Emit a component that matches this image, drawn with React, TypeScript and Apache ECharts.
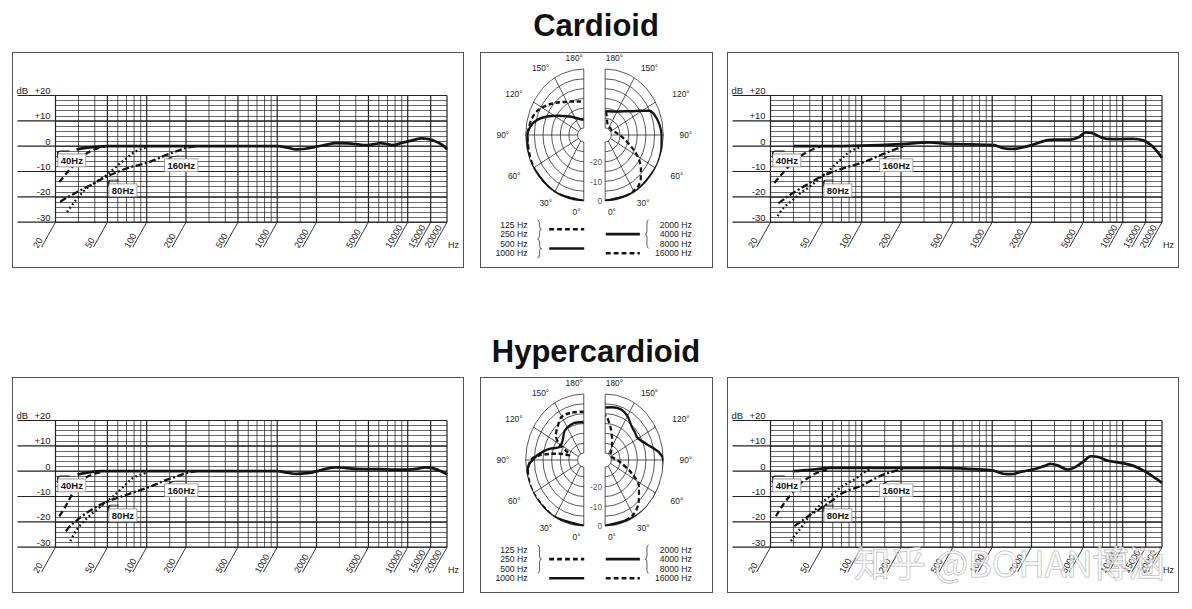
import * as echarts from 'echarts';
import React, { useEffect, useRef } from 'react';

type Pt = [number, number];

const FONT = '"Liberation Sans", Arial, Helvetica, sans-serif';
const INK = '#141414';
const GRID = '#222';

// frequency axis: vertical grid lines and labelled lines (Hz)
const gridFreqs = [
  20, 30, 40, 50, 60, 70, 80, 90, 100, 150, 200, 300, 400, 500, 600, 700, 800, 900, 1000,
  1500, 2000, 3000, 4000, 5000, 6000, 7000, 8000, 9000, 10000, 15000, 20000,
];
const labelFreqs = [20, 50, 100, 200, 500, 1000, 2000, 5000, 10000, 15000, 20000];
// level axis: labelled lines (dB)
const majorDb = [-30, -20, -10, 0, 10, 20];

// frequency response, [Hz, dB] — cardioid, left chart
const cardA: Pt[] = [
  [29, -1.3], [33, -0.8], [40, -0.3], [50, 0], [100, 0], [500, 0], [1000, 0], [1200, -0.6],
  [1400, -1.3], [1650, -1.0], [2000, -0.2], [2400, 0.6], [2800, 1.2], [3500, 1.1], [4200, 0.7],
  [4800, 0.4], [5500, 0.8], [6200, 1.2], [7000, 0.8], [7700, 0.4], [8500, 0.9], [9500, 1.6],
  [11000, 2.4], [12800, 3.1], [14500, 2.8], [16500, 1.8], [18500, 0.4], [20000, -1.3],
];
const cardA40: Pt[] = [[21.4, -14.2], [24, -11], [27, -8], [30, -5.5], [34, -3.2], [40, -1.2], [48, -0.1]];
const cardA80: Pt[] = [
  [24.5, -26], [27, -23], [30, -20], [35, -16.5], [40, -14.5], [48, -11.8], [55, -9.3], [61, -7.2],
  [70, -4.8], [79, -2.6], [90, -1.2], [100, -0.4],
];
const cardA160: Pt[] = [
  [21.7, -22], [25, -20], [28.6, -18.4], [33, -16.7], [38, -15.1], [44, -13.3], [51, -11.6], [60, -10.2],
  [68, -9], [80, -7.9], [100, -6.6], [120, -5], [137, -3.7], [165, -2.2], [200, -0.7], [240, 0],
];

// cardioid, right chart
const cardB: Pt[] = [
  [30, 0], [50, 0], [100, 0.2], [200, 0.8], [330, 1.5], [460, 0.9], [700, 0.7], [1000, 0.5],
  [1250, -0.9], [1450, -1.1], [1700, -0.5], [2000, 0.4], [2600, 2.3], [3000, 2.6], [4000, 2.6],
  [4600, 3.5], [5200, 5.4], [5800, 5.2], [6700, 3.7], [7600, 2.9], [9600, 2.8], [12000, 2.9],
  [14400, 2.3], [16200, 0.7], [17800, -1.3], [20000, -4.6],
];
const cardB40: Pt[] = [[21.4, -14.5], [24, -11.5], [27, -8.5], [30, -6], [34, -3.8], [40, -1.8], [48, -0.2]];
const cardB80: Pt[] = [
  [22.7, -27.6], [25, -24.5], [30, -21], [35, -18], [40, -16], [48, -12.5], [55, -10], [61, -7.9],
  [70, -5], [79, -2.6], [90, -1], [100, -0.3],
];
const cardB160: Pt[] = [
  [23, -22.6], [26, -20.5], [30, -18.4], [38, -15.2], [48, -12.2], [60, -10.2], [68, -9.2], [80, -8],
  [100, -6.6], [137, -3.7], [175, -1.5], [210, 0],
];

// hypercardioid, left chart
const hypA: Pt[] = [
  [29.5, -1.3], [35, -0.6], [45, 0], [100, 0], [500, 0], [1000, 0], [1200, -0.6], [1400, -1.1],
  [1700, -0.8], [2000, -0.1], [2400, 1], [2800, 1.5], [3300, 1.3], [4000, 0.9], [6000, 0.8],
  [8000, 0.6], [10000, 0.6], [12000, 1], [13600, 1.5], [15500, 1.2], [18000, 0], [20000, -1.3],
];
const hypA40: Pt[] = [[21.4, -17.8], [23.5, -14.5], [26.3, -9.9], [29.5, -5.3], [33, -2.9], [40.5, -0.9], [47, -0.2]];
const hypA80: Pt[] = [
  [26, -27.6], [28.6, -23.7], [32, -20.5], [36.2, -17.8], [42, -15], [48, -12.5], [55, -10], [61, -7.9],
  [70, -5], [79, -2.6], [90, -1.3], [100, -0.7],
];
const hypA160: Pt[] = [
  [24, -23.7], [26, -21.5], [28.6, -19.7], [33, -17.2], [38, -15.1], [44, -13.3], [51, -11.8], [60, -10.5],
  [68, -9.5], [80, -8.3], [100, -6.6], [120, -5], [137, -3.7], [165, -2.3], [200, -0.8], [240, 0],
];

// hypercardioid, right chart
const hypB: Pt[] = [
  [30, 0], [40, 0.5], [58, 1.3], [100, 1.3], [205, 1.3], [400, 1.3], [740, 0.8], [1000, 0.3],
  [1250, -1.1], [1400, -1.2], [1650, -0.3], [2100, 0.8], [2500, 2.0], [2800, 2.9], [3200, 2.2],
  [3800, 0.6], [4300, 1.5], [5000, 3.8], [5700, 5.9], [6500, 5.6], [7600, 4.2], [9600, 3.3],
  [12100, 2.1], [15000, -0.3], [20000, -4.6],
];
const hypB40: Pt[] = [[22, -17.8], [25, -13.2], [29.5, -8.5], [33, -5.5], [36, -3.7], [40, -2.3], [45, -0.7], [54, 0.5]];
const hypB80: Pt[] = [
  [28.7, -27.6], [31, -25], [34.2, -22.4], [37, -19.8], [40.6, -17.1], [46, -14.3], [51.2, -11.8],
  [60, -9], [68.2, -6.6], [80, -4.4], [91.9, -2.6], [104, -0.6], [116, 0.8],
];
const hypB160: Pt[] = [
  [30.4, -21.7], [35, -19.5], [40.6, -17.1], [46, -15.5], [51.2, -13.8], [60, -11.4], [68.2, -9.2],
  [80, -7.5], [98, -5.9], [115, -4], [137, -2], [165, -0.5], [206, 0.9],
];

// polar patterns, [degrees, dB]
const cardPolarLow: Pt[] = [
  [0, 0], [30, 0], [60, -0.2], [90, -1], [97, -1.6], [106, -2.5], [116, -4.4], [127, -8], [135, -10.5],
  [143, -12.6], [153, -14.5], [163, -15.8], [172, -16.3], [180, -16.5],
];
const cardPolarMid: Pt[] = [
  [0, 0], [30, 0], [60, 0], [75, 0], [90, -1], [98, -2.4], [106, -5.5], [114, -10.3], [124, -16],
  [133, -19.5], [143, -22], [158, -24.5], [170, -25.5], [180, -25.7],
];
const cardPolarHigh: Pt[] = [
  [0, 0], [30, 0], [60, 0], [80, -0.5], [90, -1], [100, -1.8], [110, -3.3], [116, -5.3], [122, -10.4],
  [129, -14.4], [138, -17.3], [156, -20.5], [170, -21.3], [180, -21.5],
];
const cardPolar16k: Pt[] = [
  [0, 0], [20, -0.2], [30, -0.6], [36, -1.2], [42, -2.9], [49, -6.2], [57, -10.1], [65, -15.2],
  [81, -22.7], [100, -27], [119, -29], [140, -29], [165, -28], [177, -22.1], [180, -21.5],
];
const hypPolarLow: Pt[] = [
  [0, 0], [30, 0], [60, 0], [80, -0.8], [90, -3], [95, -7.5], [99, -13.7], [103, -19.2], [106, -25],
  [112, -24], [120, -17], [128, -13], [137, -11.2], [149, -8.2], [163, -8.4], [180, -9],
];
const hypPolar1k: Pt[] = [
  [0, 0], [30, 0], [45, 0], [60, 0.3], [75, 0.3], [85, -1.5], [90, -4], [95, -6.5], [100, -9.5],
  [106, -13], [115, -18.1], [122, -18.3], [131, -17.6], [143, -15.1], [161, -14], [180, -14.3],
];
const hypPolarHigh: Pt[] = [
  [0, 0], [30, 0], [50, 0.5], [70, 0.8], [81, 0.8], [90, 0], [97, -2.1], [108, -8], [115, -10.5],
  [122, -11.8], [130, -11.3], [137, -10.8], [150, -7.8], [161, -6.2], [172, -6.5], [180, -6.9],
];
const hypPolar16k: Pt[] = [
  [0, 0], [15, -0.2], [31, -1.4], [43, -5.1], [55, -9.7], [66, -16.6], [83, -24.9], [105, -29],
  [127, -30], [145, -27], [157, -23.3], [169, -16.9], [178, -11.2], [180, -11],
];

const polarAngles = [0, 30, 60, 90, 120, 150, 180];
const polarRadiusLabels = [0, -10, -20];
const legendLeftRows = ['125 Hz', '250 Hz', '500 Hz', '1000 Hz'];
const legendRightRows = ['2000 Hz', '4000 Hz', '8000 Hz', '16000 Hz'];

const lg = (f: number) => Math.log10(f);
const toXY = (pts: Pt[]) => pts.map(([f, db]) => [lg(f), db]);

interface ResponseProps {
  solid: Pt[];
  hp40: Pt[];
  hp80: Pt[];
  lc160: Pt[];
  watermark?: string;
}

const ResponseChart: React.FC<ResponseProps> = ({ solid, hp40, hp80, lc160, watermark }) => {
  const chartRef = useRef<HTMLDivElement>(null);

  useEffect(() => {
    if (!chartRef.current) return;
    const chart = echarts.init(chartRef.current, null, { renderer: 'svg' });

    const tagLabel = (text: string) => ({
      show: true,
      position: 'inside',
      formatter: text,
      backgroundColor: '#fff',
      borderColor: '#8a8a8a',
      borderWidth: 0.8,
      padding: [1.5, 2.5, 0.5, 2.5],
      fontSize: 9.5,
      fontWeight: 'bold',
      fontFamily: FONT,
      color: INK,
    });
    // filter tag: a boxed label plus the small filter-slope glyph above it
    const tag = (text: string, at: Pt, mark: Pt, path: string, size: number[]) => ({
      silent: true,
      data: [
        {
          coord: [lg(mark[0]), mark[1]],
          symbol: path,
          symbolSize: size,
          itemStyle: { color: 'transparent', borderColor: INK, borderWidth: 1.1 },
          label: { show: false },
        },
        {
          coord: [lg(at[0]), at[1]],
          symbol: 'circle',
          symbolSize: 1,
          itemStyle: { color: 'transparent' },
          label: tagLabel(text),
        },
      ],
    });
    const hook = 'path://M0,10 L0,3 Q0,0 3,0 L12,0';
    const slope = 'path://M0,8 Q5,0 12,0 L24,0';

    const curve = (data: Pt[], dash: any, width: number, z: number, markPoint?: any) => ({
      type: 'line',
      data: toXY(data),
      smooth: 0.35,
      symbol: 'none',
      z,
      lineStyle: { color: INK, width, type: dash },
      markPoint,
    });

    const option: any = {
      animation: false,
      textStyle: { fontFamily: FONT },
      grid: { left: 42.5, top: 42.5, width: 394, height: 126.7 },
      xAxis: {
        type: 'value',
        min: lg(20),
        max: lg(20000),
        axisLine: { show: false, onZero: false },
        axisTick: { show: false },
        axisLabel: { show: false },
        splitLine: { show: false },
        name: 'Hz',
        nameLocation: 'end',
        nameGap: 1,
        nameTextStyle: {
          fontSize: 9,
          color: '#222',
          align: 'left',
          verticalAlign: 'top',
          padding: [18, 0, 0, 0],
        },
      },
      yAxis: {
        type: 'value',
        min: -30,
        max: 20,
        interval: 2,
        axisLine: { show: false },
        axisTick: { show: false },
        axisLabel: {
          margin: 5,
          fontSize: 9.5,
          color: '#222',
          verticalAlign: 'bottom',
          formatter: (v: number) =>
            v % 10 !== 0 ? '' : v === 20 ? '{d|dB}+20' : v > 0 ? `+${v}` : `${v}`,
          rich: { d: { width: 18, align: 'left', fontSize: 9.5, color: '#222' } },
        },
        splitLine: { show: true, lineStyle: { color: '#2a2a2a', width: 0.7 } },
      },
      series: [
        {
          // labelled level lines, reaching out under the dB labels
          type: 'custom',
          z: 1,
          silent: true,
          data: majorDb.map((d) => [lg(20), d]),
          renderItem: (params: any, api: any) => {
            const l = api.coord([lg(20), api.value(1)]);
            const r = api.coord([lg(20000), api.value(1)]);
            return {
              type: 'line',
              shape: { x1: l[0] - 38, y1: l[1], x2: r[0], y2: r[1] },
              style: { stroke: GRID, lineWidth: 1.2 },
            };
          },
        },
        {
          // vertical frequency grid
          type: 'custom',
          z: 1,
          silent: true,
          data: gridFreqs.map((f) => [lg(f), -30]),
          renderItem: (params: any, api: any) => {
            const x = api.value(0);
            const top = api.coord([x, 20]);
            const bot = api.coord([x, -30]);
            const major = labelFreqs.includes(gridFreqs[params.dataIndex]);
            return {
              type: 'line',
              shape: { x1: top[0], y1: top[1], x2: bot[0], y2: bot[1] },
              style: { stroke: GRID, lineWidth: major ? 1.2 : 0.75 },
            };
          },
        },
        {
          // slanted frequency labels under the grid
          type: 'custom',
          z: 1,
          silent: true,
          data: labelFreqs.map((f) => [lg(f), -30]),
          renderItem: (params: any, api: any) => {
            const p = api.coord([api.value(0), -30]);
            return {
              type: 'group',
              children: [
                {
                  type: 'line',
                  shape: { x1: p[0], y1: p[1], x2: p[0] - 14, y2: p[1] + 25 },
                  style: { stroke: GRID, lineWidth: 0.9 },
                },
                {
                  type: 'text',
                  x: p[0] - 20,
                  y: p[1] + 25,
                  rotation: Math.PI / 3,
                  style: {
                    text: String(labelFreqs[params.dataIndex]),
                    fill: '#222',
                    fontSize: 9,
                    fontFamily: FONT,
                    align: 'left',
                    verticalAlign: 'middle',
                  },
                },
              ],
            };
          },
        },
        curve(hp40, [6, 3.5], 2.3, 3, tag('40Hz', [26.7, -5.6], [23.1, -3.3], hook, [12, 7])),
        curve(hp80, [1.8, 2.6], 2.3, 3, tag('80Hz', [65.7, -17.4], [56, -14.6], hook, [10, 6])),
        curve(lc160, [7, 2.5, 2, 2.5], 2.3, 3, tag('160Hz', [184, -7.5], [168, -4.7], slope, [17, 4])),
        curve(solid, 'solid', 2.7, 4),
      ],
      graphic: watermark
        ? [
            {
              type: 'text',
              x: 126,
              y: 183,
              z: 100,
              silent: true,
              style: {
                text: watermark,
                fontSize: 36,
                fontFamily: '"Noto Sans CJK SC", "Noto Sans", sans-serif',
                fill: 'rgba(255,255,255,0.65)',
                stroke: 'rgba(140,140,140,0.7)',
                lineWidth: 1,
                verticalAlign: 'middle',
              },
            },
          ]
        : [],
    };

    chart.setOption(option);
    return () => chart.dispose();
  }, [solid, hp40, hp80, lc160, watermark]);

  return <div ref={chartRef} style={{ width: 449, height: 213 }} />;
};

// polar panel geometry (drawn in a frame squeezed horizontally, like the source)
const SQUEEZE = 0.88;
const POLAR_W = 230 / SQUEEZE;
const CY = 82;
const R_IN = 7;
const R_OUT = 66;

const padLeftHalf: Record<number, number> = { 0: 16.6, 30: 0, 60: 9.5, 90: 12.8, 120: 7.2, 150: 3.3, 180: 21.6 };
const padRightHalf: Record<number, number> = { 0: 15.4, 30: 0, 60: 12, 90: 12.5, 120: 14, 150: 4.6, 180: 21 };

const bracePath = (w: number, h: number, openRight: boolean) => {
  const m = w / 2;
  const c = Math.min(3, h / 6);
  const h2 = h / 2;
  return openRight
    ? `M0,0 Q${m},0 ${m},${c} L${m},${h2 - c} Q${m},${h2} ${w},${h2} Q${m},${h2} ${m},${h2 + c} L${m},${h - c} Q${m},${h} 0,${h}`
    : `M${w},0 Q${m},0 ${m},${c} L${m},${h2 - c} Q${m},${h2} 0,${h2} Q${m},${h2} ${m},${h2 + c} L${m},${h - c} Q${m},${h} ${w},${h}`;
};

const braceEl = (x: number, y: number, w: number, h: number, openRight: boolean) => {
  const name = `brace${openRight ? 'R' : 'L'}${Math.round(w * 10)}x${Math.round(h * 10)}`;
  echarts.graphic.registerShape(name, echarts.graphic.extendPath(bracePath(w, h, openRight), {}) as any);
  return { type: name, x, y, silent: true, style: { fill: 'none', stroke: '#444', lineWidth: 0.9 } };
};

interface PolarProps {
  leftDashed: Pt[];
  leftSolid: Pt[];
  rightSolid: Pt[];
  rightDashed: Pt[];
  leftGroups: number[];
}

const PolarChart: React.FC<PolarProps> = ({ leftDashed, leftSolid, rightSolid, rightDashed, leftGroups }) => {
  const chartRef = useRef<HTMLDivElement>(null);

  useEffect(() => {
    if (!chartRef.current) return;
    const chart = echarts.init(chartRef.current, null, { renderer: 'svg' });

    const cx = [116.8, 141.1];
    const lineStyle = { color: GRID, width: 0.8 };

    const angleAxis = (idx: number) => ({
      polarIndex: idx,
      type: 'value',
      min: 0,
      max: 180,
      interval: 30,
      startAngle: idx === 0 ? 270 : -90,
      endAngle: 90,
      clockwise: idx === 0,
      axisLine: { show: false },
      axisTick: { show: false },
      splitLine: { show: true, lineStyle },
      axisLabel: {
        margin: 6,
        fontSize: 9.5,
        color: '#222',
        fontFamily: FONT,
        formatter: (v: number) => `{a${v}|${v}°}`,
        rich: Object.fromEntries(
          polarAngles.map((a) => [
            `a${a}`,
            {
              fontSize: 9.5,
              color: '#222',
              fontFamily: FONT,
              padding: idx === 0 ? [0, padLeftHalf[a], 0, 0] : [0, 0, 0, padRightHalf[a]],
            },
          ]),
        ),
      },
    });

    const radiusAxis = (idx: number) => ({
      polarIndex: idx,
      type: 'value',
      min: -30,
      max: 0,
      interval: 5,
      axisLine: { show: false },
      axisTick: { show: false },
      axisLabel: { show: false },
      splitLine: { show: true, lineStyle },
    });

    const pattern = (idx: number, data: Pt[], dashed: boolean) => ({
      type: 'line',
      coordinateSystem: 'polar',
      polarIndex: idx,
      data: data.map(([a, d]) => [d, a]),
      smooth: 0.3,
      symbol: 'none',
      clip: false,
      z: dashed ? 3 : 4,
      lineStyle: { color: INK, width: 2.5, type: dashed ? [5, 3] : 'solid' },
    });

    // axis stubs reaching past the 0 dB ring
    const stub = (idx: number, angle: number, beyond: number) => ({
      type: 'line',
      coordinateSystem: 'polar',
      polarIndex: idx,
      data: [[0, angle], [beyond, angle]],
      symbol: 'none',
      clip: false,
      silent: true,
      lineStyle: { color: INK, width: 1 },
    });

    const rowY = (i: number) => 171.5 + i * 9.6;
    const graphic: any[] = [];
    legendLeftRows.forEach((t, i) =>
      graphic.push({
        type: 'text',
        x: 52.8,
        y: rowY(i),
        silent: true,
        style: { text: t, align: 'right', verticalAlign: 'middle', fontSize: 9.8, fontFamily: FONT, fill: '#222' },
      }),
    );
    legendRightRows.forEach((t, i) =>
      graphic.push({
        type: 'text',
        x: 239.5,
        y: rowY(i),
        silent: true,
        style: { text: t, align: 'right', verticalAlign: 'middle', fontSize: 9.8, fontFamily: FONT, fill: '#222' },
      }),
    );
    const sample = (x1: number, x2: number, y: number, dashed: boolean) => ({
      type: 'line',
      silent: true,
      shape: { x1, y1: y, x2, y2: y },
      style: { stroke: INK, lineWidth: 2.6, lineDash: dashed ? [5.5, 3.5] : null },
    });
    let start = 0;
    leftGroups.forEach((n, gi) => {
      const y0 = rowY(start);
      const y1 = rowY(start + n - 1);
      if (n > 1) graphic.push(braceEl(64.2, y0 - 4.5, 4.6, y1 - y0 + 9, true));
      graphic.push(sample(77.5, 117.3, (y0 + y1) / 2, gi === 0));
      start += n;
    });
    [3, 1].reduce((s, n, gi) => {
      const y0 = rowY(s);
      const y1 = rowY(s + n - 1);
      if (n > 1) graphic.push(braceEl(186.6, y0 - 4.5, 4, y1 - y0 + 9, false));
      graphic.push(sample(141.8, 180.5, (y0 + y1) / 2, gi === 1));
      return s + n;
    }, 0);

    const option: any = {
      animation: false,
      textStyle: { fontFamily: FONT },
      polar: cx.map((x) => ({ center: [x, CY], radius: [R_IN, R_OUT] })),
      angleAxis: [angleAxis(0), angleAxis(1)],
      radiusAxis: [radiusAxis(0), radiusAxis(1)],
      series: [
        pattern(0, leftDashed, true),
        pattern(0, leftSolid, false),
        pattern(1, rightDashed, true),
        pattern(1, rightSolid, false),
        stub(0, 180, 6),
        stub(0, 90, 4.2),
        stub(1, 180, 6),
        stub(1, 90, 4.2),
        {
          type: 'scatter',
          coordinateSystem: 'polar',
          polarIndex: 1,
          data: polarRadiusLabels.map((r) => [r, 0]),
          symbolSize: 0.1,
          silent: true,
          itemStyle: { color: 'transparent' },
          label: {
            show: true,
            position: 'left',
            distance: 3.5,
            fontSize: 9.5,
            color: '#222',
            fontFamily: FONT,
            formatter: (p: any) => String(p.value[0]),
          },
        },
      ],
      graphic,
    };

    chart.setOption(option);
    return () => chart.dispose();
  }, [leftDashed, leftSolid, rightSolid, rightDashed, leftGroups]);

  return (
    <div
      ref={chartRef}
      style={{ width: POLAR_W, height: 213, transform: `scaleX(${SQUEEZE})`, transformOrigin: '0 0' }}
    />
  );
};

const Titles: React.FC = () => {
  const chartRef = useRef<HTMLDivElement>(null);
  useEffect(() => {
    if (!chartRef.current) return;
    const chart = echarts.init(chartRef.current, null, { renderer: 'svg' });
    const style = { fontSize: 31, fontWeight: 'bold', color: '#111', fontFamily: FONT };
    chart.setOption({
      animation: false,
      title: [
        { text: 'Cardioid', left: 'center', top: 9.5, padding: 0, textStyle: style },
        { text: 'Hypercardioid', left: 'center', top: 335.5, padding: 0, textStyle: style },
      ],
    });
    return () => chart.dispose();
  }, []);
  return <div ref={chartRef} style={{ position: 'absolute', left: 0, top: 0, width: 1192, height: 609 }} />;
};

const Box: React.FC<{ x: number; y: number; w: number; h: number; children: React.ReactNode }> = ({
  x,
  y,
  w,
  h,
  children,
}) => (
  <div
    style={{
      position: 'absolute',
      left: x,
      top: y,
      width: w,
      height: h,
      border: '1.5px solid #555',
      boxSizing: 'border-box',
      background: '#fff',
      overflow: 'hidden',
    }}
  >
    {children}
  </div>
);

const cardLeftGroups = [2, 2];
const hypLeftGroups = [3, 1];

export default function App() {
  return (
    <div
      style={{
        position: 'absolute',
        left: 0,
        top: 0,
        width: 1192,
        height: 609,
        background: '#fff',
        overflow: 'hidden',
      }}
    >
      <Titles />
      <Box x={12} y={52} w={452} h={216}>
        <ResponseChart solid={cardA} hp40={cardA40} hp80={cardA80} lc160={cardA160} />
      </Box>
      <Box x={480} y={52} w={233} h={216}>
        <PolarChart
          leftDashed={cardPolarLow}
          leftSolid={cardPolarMid}
          rightSolid={cardPolarHigh}
          rightDashed={cardPolar16k}
          leftGroups={cardLeftGroups}
        />
      </Box>
      <Box x={727} y={52} w={452} h={216}>
        <ResponseChart solid={cardB} hp40={cardB40} hp80={cardB80} lc160={cardB160} />
      </Box>
      <Box x={12} y={377} w={452} h={216}>
        <ResponseChart solid={hypA} hp40={hypA40} hp80={hypA80} lc160={hypA160} />
      </Box>
      <Box x={480} y={377} w={233} h={216}>
        <PolarChart
          leftDashed={hypPolarLow}
          leftSolid={hypPolar1k}
          rightSolid={hypPolarHigh}
          rightDashed={hypPolar16k}
          leftGroups={hypLeftGroups}
        />
      </Box>
      <Box x={727} y={377} w={452} h={216}>
        <ResponseChart solid={hypB} hp40={hypB40} hp80={hypB80} lc160={hypB160} watermark="知乎 @BOHAN博涵" />
      </Box>
    </div>
  );
}
